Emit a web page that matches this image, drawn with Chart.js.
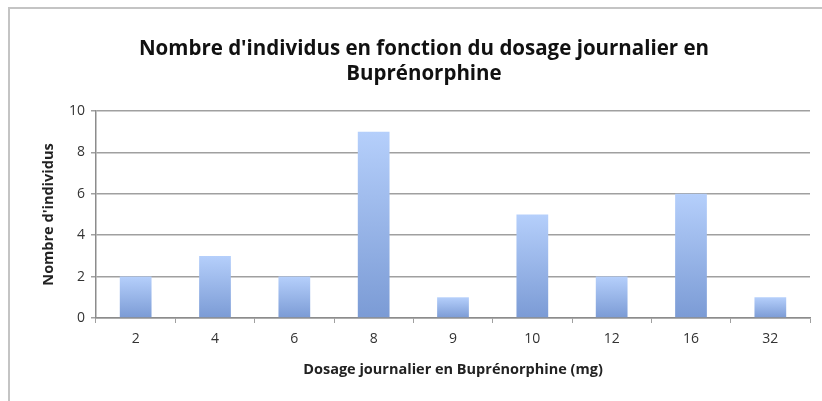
<!DOCTYPE html>
<html>
<head>
<meta charset="utf-8">
<script src="https://cdn.jsdelivr.net/npm/chart.js@4/dist/chart.umd.min.js"></script>
<style>
  html, body { margin: 0; padding: 0; background: #fff; }
  #frame { position: absolute; left: 8px; top: 7px; width: 814px; height: 394px;
           border-left: 2px solid #c4c4c4; border-top: 2px solid #c4c4c4; }
  #wrap { position: absolute; left: 0; top: 0; width: 822px; height: 401px; }
</style>
</head>
<body>
<div id="frame"></div>
<div id="wrap"><canvas id="c" width="822" height="401"></canvas></div>
<script>
const categories = ['2', '4', '6', '8', '9', '10', '12', '16', '32'];
const counts = [2, 3, 2, 9, 1, 5, 2, 6, 1];
const yTicks = [0, 2, 4, 6, 8, 10];
const titleLines = ["Nombre d'individus en fonction du dosage journalier en", 'Buprénorphine'];
const xTitle = 'Dosage journalier en Buprénorphine (mg)';
const yTitle = "Nombre d'individus";

const FONT = '"Open Sans", Lato, sans-serif';

function barGradient(ctx) {
  const chart = ctx.chart;
  const ys = chart.scales && chart.scales.y;
  if (!chart.chartArea || !ys || ctx.raw === undefined) return '#9ab6ea';
  const top = ys.getPixelForValue(ctx.raw);
  const bottom = ys.getPixelForValue(0);
  if (!isFinite(top) || !isFinite(bottom) || top === bottom) return '#9ab6ea';
  const g = chart.ctx.createLinearGradient(0, top, 0, bottom);
  g.addColorStop(0, '#b5cffb');
  g.addColorStop(1, '#7b9bd5');
  return g;
}

new Chart(document.getElementById('c'), {
  type: 'bar',
  data: {
    labels: categories,
    datasets: [{
      data: counts,
      backgroundColor: barGradient,
      borderWidth: 0,
      barPercentage: 0.4,
      categoryPercentage: 1.0
    }]
  },
  options: {
    responsive: false,
    animation: false,
    layout: { padding: { left: 38, right: 12, top: 37, bottom: 22 } },
    plugins: {
      legend: { display: false },
      tooltip: { enabled: false },
      title: {
        display: true,
        text: titleLines,
        color: '#111',
        font: { family: FONT, size: 20.5, weight: 'bold', lineHeight: 1.22 },
        padding: { top: 0, bottom: 24 }
      }
    },
    scales: {
      x: {
        grid: { display: true, drawOnChartArea: false, drawTicks: true, tickLength: 5, color: '#a0a0a0', offset: true },
        border: { display: true, color: '#8c8c8c', width: 1.5 },
        ticks: { color: '#333', font: { family: FONT, size: 14 }, padding: 8 },
        title: { display: true, text: xTitle, color: '#222', font: { family: FONT, size: 14.5, weight: 'bold' }, padding: { top: 4, bottom: 0 } },
        afterFit: (s) => { s.height = 61; }
      },
      y: {
        min: 0, max: 10,
        afterBuildTicks: (s) => { s.ticks = yTicks.map(v => ({ value: v })); },
        grid: { color: '#a0a0a0', lineWidth: 1.5, drawTicks: true, tickLength: 5 },
        border: { display: true, color: '#8c8c8c', width: 1.5 },
        ticks: { color: '#333', font: { family: FONT, size: 14 }, padding: 6 },
        title: { display: true, text: yTitle, color: '#222', font: { family: FONT, size: 14.5, weight: 'bold' }, padding: { top: 2, bottom: 0 } },
        afterFit: (s) => { s.width = 58; }
      }
    }
  }
});
</script>
</body>
</html>
